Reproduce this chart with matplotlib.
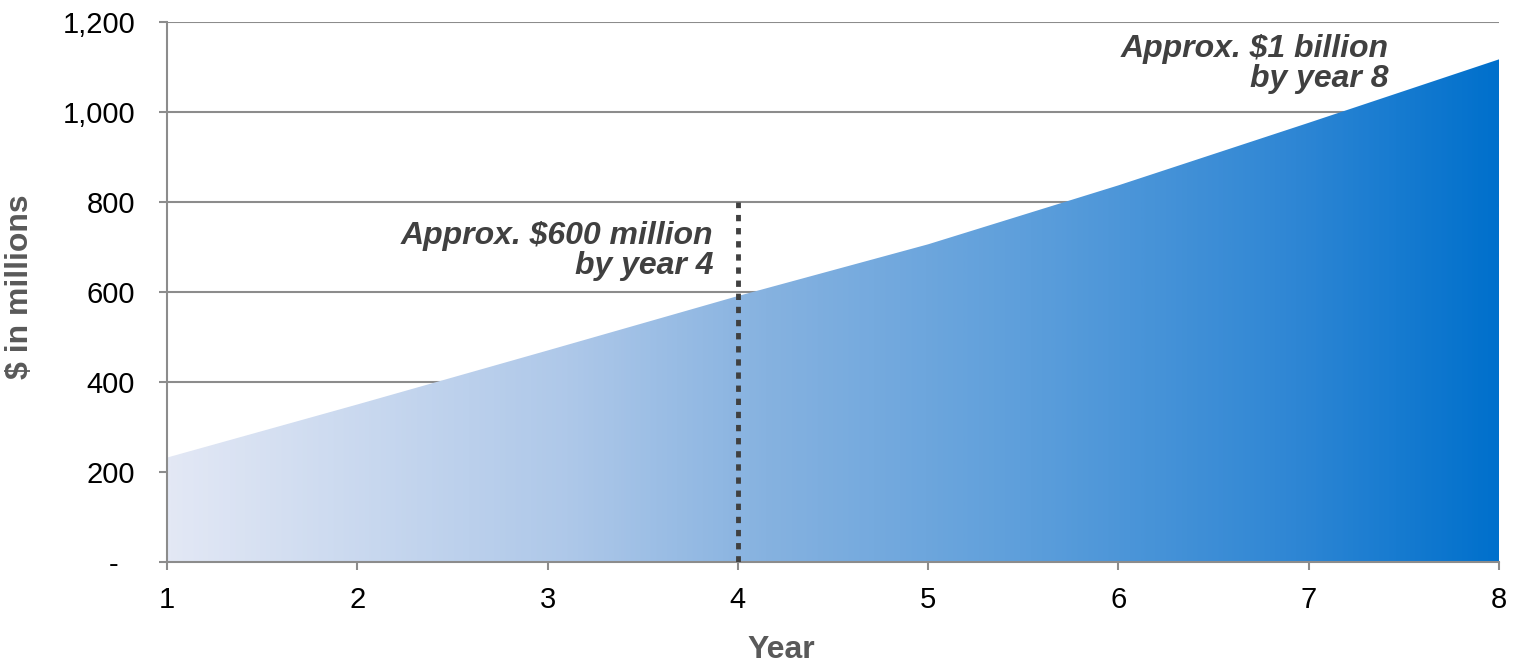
import numpy as np
import matplotlib.pyplot as plt
from matplotlib.colors import LinearSegmentedColormap

# Data
years = [1, 2, 3, 4, 5, 6, 7, 8]
value = [232, 350, 470, 591, 706, 837, 976, 1117]   # $ in millions
y_ticks = [0, 200, 400, 600, 800, 1000, 1200]
y_tick_labels = ['-  ', '200', '400', '600', '800', '1,000', '1,200']
marker_year = 4
marker_top = 800
note_4 = 'Approx. $600 million\nby year 4'
note_8 = 'Approx. $1 billion\nby year 8'

plt.rcParams['font.family'] = ['Liberation Sans', 'DejaVu Sans']

fig = plt.figure(figsize=(15.23, 6.66), dpi=100)
ax = fig.add_axes([167 / 1523, 1 - 562 / 666, 1332 / 1523, 540 / 666])

grid_col = '#8c8c8c'
ax.set_xlim(1, 8)
ax.set_ylim(0, 1200)

# gradient area clipped by the filled polygon
cmap = LinearSegmentedColormap.from_list('blues', [
    (0.0, '#E3E8F5'), (0.3, '#AEC8E9'), (0.45, '#86B2E0'),
    (0.65, '#5C9EDB'), (0.85, '#2E86D4'), (1.0, '#0070CC')])
poly = ax.fill_between(years, value, 0, color='none', lw=0, zorder=2)
grad = np.linspace(0, 1, 512).reshape(1, -1)
im = ax.imshow(grad, cmap=cmap, aspect='auto', extent=[1, 8, 0, 1200],
               origin='lower', zorder=2)
path = poly.get_paths()[0]
im.set_clip_path(path, transform=ax.transData)

# grid
ax.set_yticks(y_ticks)
ax.set_yticklabels(y_tick_labels)
ax.set_xticks(years)
ax.grid(axis='y', color=grid_col, lw=1.5, zorder=1)
ax.set_axisbelow(True)

for s in ['top', 'right']:
    ax.spines[s].set_visible(False)
for s in ['left', 'bottom']:
    ax.spines[s].set_color(grid_col)
    ax.spines[s].set_linewidth(1.5)
    ax.spines[s].set_zorder(3)
ax.tick_params(axis='both', colors=grid_col, width=1.5, length=6,
               labelcolor='black', labelsize=21)
ax.tick_params(axis='y', pad=17)
ax.tick_params(axis='x', pad=11)

# dotted marker line
ax.plot([marker_year, marker_year], [0, marker_top], color='#404040', lw=3.5,
        linestyle=(0, (1.3, 1.4)), solid_capstyle='butt', zorder=4)

ax.text(3.87, 691, note_4, ha='right', va='center', fontsize=23,
        fontweight='bold', fontstyle='italic', color='#404040',
        linespacing=1.02, zorder=5)
ax.text(7.42, 1107, note_8, ha='right', va='center', fontsize=23,
        fontweight='bold', fontstyle='italic', color='#404040',
        linespacing=1.02, zorder=5)

fig.text(20 / 1523, 1 - 287 / 666, '$ in millions', rotation=90,
         ha='center', va='center', fontsize=23, fontweight='bold',
         color='#595959')
fig.text(781 / 1523, 1 - 650 / 666, 'Year', ha='center', va='center',
         fontsize=23, fontweight='bold', color='#595959')

fig.savefig('out.png', dpi=100)
